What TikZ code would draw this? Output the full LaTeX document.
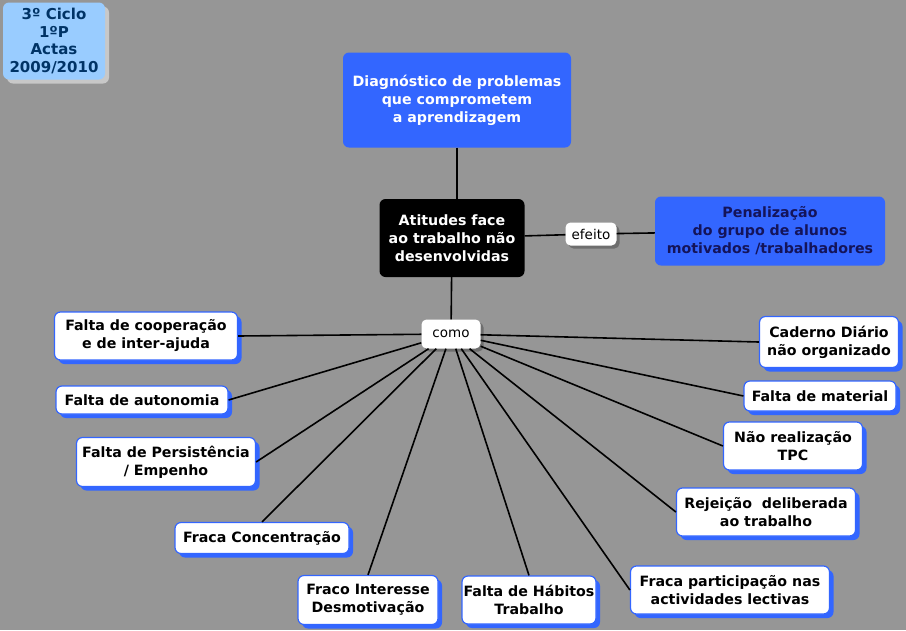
\documentclass[tikz,border=0pt]{standalone}
\usepackage{fontspec}
\setmainfont{DejaVu Sans}
\usetikzlibrary{shadows}
\definecolor{mapgrey}{RGB}{150,150,150}
\definecolor{mapblue}{RGB}{51,102,255}
\definecolor{titleblue}{RGB}{153,204,255}
\definecolor{titletext}{RGB}{0,51,102}
\definecolor{navytext}{RGB}{20,20,90}
\definecolor{darkshadow}{RGB}{110,110,110}
\definecolor{lightshadow}{RGB}{200,200,200}
\newcommand{\boldtext}{\bfseries\fontsize{14.2}{18}\selectfont}
\tikzstyle{box}=[rounded corners=6pt, align=center, inner sep=0, font=\boldtext]
\tikzstyle{concept}=[box, draw=mapblue, line width=1.2pt, fill=white,
                     % Blue shadow below and right of each cause.
                     drop shadow={shadow xshift=4pt, shadow yshift=-4pt, fill=mapblue, opacity=1}]
\tikzstyle{linkword}=[rounded corners=5pt, fill=white, inner sep=0, font=\fontsize{13.5}{16}\selectfont,
                      drop shadow={shadow xshift=3pt, shadow yshift=-3pt, fill=darkshadow, opacity=1}]
\tikzstyle{link}=[line width=1.6pt, black]

\begin{document}
\begin{tikzpicture}[x=1pt, y=-1pt]
        \fill[mapgrey] (0,0) rectangle (906,630);
        \useasboundingbox (0,0) rectangle (906,630);
        % Top level
        \node[box, fill=titleblue, text=titletext, minimum width=102, minimum height=77,
              font=\bfseries\fontsize{15}{17.5}\selectfont,
              drop shadow={shadow xshift=4pt, shadow yshift=-4pt, fill=lightshadow, opacity=1}]
              (title) at (54,41) {3º Ciclo\\1ºP\\Actas\\2009/2010};
        \node[box, fill=mapblue, text=white, minimum width=228, minimum height=95]
              (diag) at (457,100) {Diagnóstico de problemas\\que comprometem\\ a aprendizagem};
        \node[box, fill=black, text=white, minimum width=145, minimum height=78]
              (atit) at (452,238) {Atitudes face\\ao trabalho não\\desenvolvidas};
        \node[linkword, minimum width=51, minimum height=23] (efeito) at (591,234) {efeito};
        \node[box, fill=mapblue, text=navytext, minimum width=230, minimum height=69]
              (penal) at (770,231) {Penalização\\do grupo de alunos\\motivados /trabalhadores};
        \node[linkword, minimum width=59, minimum height=29] (como) at (451,334) {como};
        % Causes
        \node[concept, minimum width=183, minimum height=48] (coop) at (146,336) {Falta de cooperação\\e de inter-ajuda};
        \node[concept, minimum width=172, minimum height=28] (auto) at (142,400) {Falta de autonomia};
        \node[concept, minimum width=179, minimum height=49] (pers) at (166,462) {Falta de Persistência\\/ Empenho};
        \node[concept, minimum width=174, minimum height=31] (conc) at (262,538) {Fraca Concentração};
        \node[concept, minimum width=140, minimum height=49] (inter) at (368,600) {Fraco Interesse\\Desmotivação};
        \node[concept, minimum width=134, minimum height=48] (habit) at (529,600) {Falta de Hábitos\\Trabalho};
        \node[concept, minimum width=199, minimum height=48] (part) at (730,590) {Fraca participação nas\\actividades lectivas};
        \node[concept, minimum width=179, minimum height=48] (rejei) at (766,512) {Rejeição\ \ deliberada\\ao trabalho};
        \node[concept, minimum width=139, minimum height=48] (tpc) at (793,446) {Não realização\\TPC};
        \node[concept, minimum width=152, minimum height=30] (mater) at (820,396) {Falta de material};
        \node[concept, minimum width=139, minimum height=51] (cader) at (829,342) {Caderno Diário\\não organizado};
        % Connectors
        \draw[link] (diag.south) -- (diag.south |- atit.north);
        \draw[link] (atit) -- (efeito);
        \draw[link] (efeito) -- (penal);
        \draw[link] (atit) -- (como);
        \foreach \cause/\side in {coop/east, auto/east, pers/east, conc/north, inter/north, habit/north,
                                  part/west, rejei/west, tpc/west, mater/west, cader/west}
            \draw[link] (como) -- (\cause.\side);
\end{tikzpicture}
\end{document}
